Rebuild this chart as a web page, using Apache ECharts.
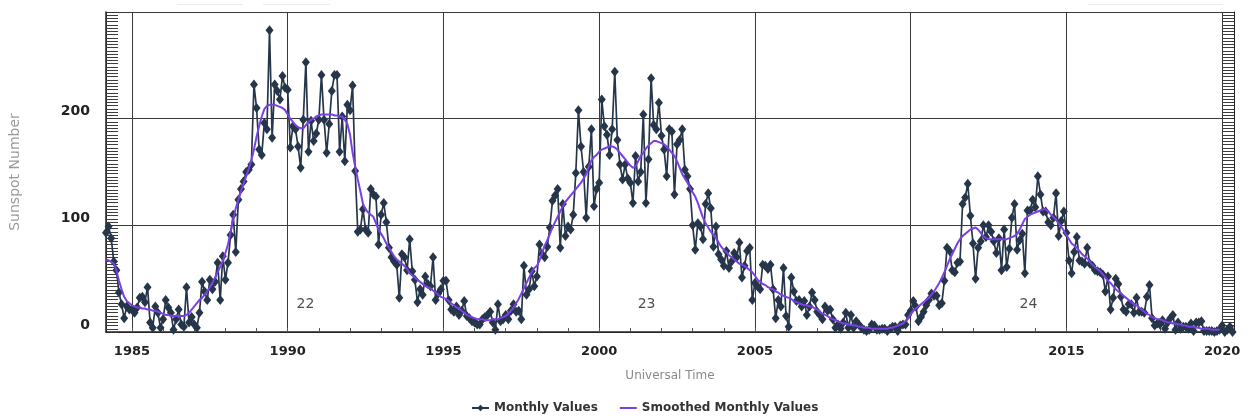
<!DOCTYPE html>
<html>
<head>
<meta charset="utf-8">
<script src="https://cdn.jsdelivr.net/npm/echarts@6/dist/echarts.min.js"></script>
<style>
  html, body { margin: 0; padding: 0; background: #fff; }
  #chart { width: 1249px; height: 417px; }
</style>
</head>
<body>
<div id="chart"></div>
<script>
// First plotted month: March 1984
const startYear = 1984;
const startMonth = 3;

// Monthly mean sunspot numbers, one value per month from Mar 1984
const monthlyValues = [
  /*1984*/ 93, 99, 88, 66, 58, 37, 26, 13, 24, 21,
  /*1985*/ 21, 18, 23, 32, 33, 28, 42, 9, 4, 24, 18, 4,
  /*1986*/ 12, 30, 23, 18, 2, 12, 21, 7, 5, 42, 9, 14,
  /*1987*/ 7, 4, 18, 47, 38, 30, 49, 40, 47, 65, 30, 71,
  /*1988*/ 49, 65, 91, 110, 75, 124, 134, 141, 150, 152, 157, 232,
  /*1989*/ 210, 171, 166, 196, 190, 283, 182, 232, 226, 218, 240, 229,
  /*1990*/ 227, 173, 193, 190, 174, 154, 199, 253, 169, 198, 179, 186,
  /*1991*/ 199, 241, 199, 168, 195, 226, 241, 241, 169, 202, 160, 213,
  /*1992*/ 208, 231, 151, 94, 96, 115, 96, 93, 134, 129, 127, 82,
  /*1993*/ 110, 121, 103, 79, 70, 66, 63, 32, 73, 70, 58, 87,
  /*1994*/ 57, 49, 28, 40, 35, 52, 45, 43, 70, 30, 36, 40,
  /*1995*/ 48, 48, 30, 21, 19, 24, 16, 20, 29, 15, 13, 10,
  /*1996*/ 9, 7, 7, 12, 14, 16, 19, 9, 2, 26, 10, 12,
  /*1997*/ 16, 12, 20, 26, 19, 20, 12, 62, 35, 40, 57, 43,
  /*1998*/ 52, 82, 73, 70, 80, 98, 123, 128, 134, 79, 120, 90,
  /*1999*/ 99, 96, 110, 149, 208, 174, 150, 107, 155, 190, 118, 134,
  /*2000*/ 140, 218, 193, 185, 166, 190, 244, 180, 157, 143, 157, 144,
  /*2001*/ 140, 121, 165, 141, 150, 204, 121, 162, 238, 194, 190, 215,
  /*2002*/ 184, 171, 146, 190, 188, 129, 176, 180, 190, 152, 146, 134,
  /*2003*/ 100, 77, 102, 99, 87, 120, 130, 116, 80, 99, 73, 68,
  /*2004*/ 62, 76, 60, 66, 74, 70, 84, 51, 62, 76, 79, 30,
  /*2005*/ 46, 43, 40, 63, 62, 59, 63, 40, 13, 30, 24, 60,
  /*2006*/ 15, 5, 51, 38, 29, 30, 24, 29, 16, 24, 37, 30,
  /*2007*/ 19, 16, 12, 24, 20, 21, 12, 4, 7, 3, 9, 18,
  /*2008*/ 4, 16, 4, 10, 7, 4, 2, 1, 2, 7, 6, 2,
  /*2009*/ 2, 3, 3, 1, 3, 5, 5, 1, 6, 7, 7, 16,
  /*2010*/ 20, 29, 24, 10, 14, 19, 25, 30, 36, 34, 34, 25,
  /*2011*/ 27, 48, 79, 76, 58, 56, 65, 66, 120, 126, 139, 109,
  /*2012*/ 83, 50, 79, 85, 100, 89, 100, 94, 85, 74, 88, 58,
  /*2013*/ 96, 61, 78, 107, 120, 77, 86, 92, 55, 114, 114, 124,
  /*2014*/ 117, 146, 129, 113, 113, 103, 100, 107, 130, 90, 104, 113,
  /*2015*/ 93, 67, 55, 75, 89, 67, 66, 64, 79, 64, 62, 58,
  /*2016*/ 57, 56, 54, 38, 52, 21, 32, 50, 45, 33, 21, 19,
  /*2017*/ 26, 26, 18, 32, 19, 19, 18, 33, 44, 13, 6, 8,
  /*2018*/ 7, 11, 3, 9, 13, 16, 2, 9, 3, 5, 5, 3,
  /*2019*/ 8, 1, 9, 9, 10, 1, 1, 1, 1, 0, 1, 2,
  /*2020*/ 6, 0, 2, 5, 0
];

// 13-month smoothed sunspot numbers, one value per month from Mar 1984
const smoothedValues = [
  /*1984*/ 68, 67, 66, 64, 58, 48, 40, 33, 29, 27,
  /*1985*/ 25, 24, 23, 23, 22, 22, 21, 21, 20, 20, 19, 18,
  /*1986*/ 17, 16, 16, 15, 15, 15, 15, 15, 15, 16, 18, 21,
  /*1987*/ 24, 27, 30, 32, 35, 38, 42, 46, 51, 56, 61, 66,
  /*1988*/ 74, 82, 94, 106, 116, 124, 132, 139, 146, 153, 161, 171,
  /*1989*/ 183, 193, 202, 209, 212, 213, 213, 213, 212, 211, 210, 208,
  /*1990*/ 204, 200, 197, 194, 192, 191, 191, 194, 197, 199, 200, 202,
  /*1991*/ 203, 204, 204, 204, 204, 204, 203, 203, 202, 202, 199, 195,
  /*1992*/ 185, 168, 155, 143, 132, 120, 115, 112, 110, 108, 102, 96,
  /*1993*/ 92, 88, 83, 79, 75, 71, 68, 66, 64, 62, 59, 55,
  /*1994*/ 53, 51, 49, 47, 45, 43, 42, 41, 39, 37, 35, 33,
  /*1995*/ 32, 31, 29, 27, 25, 23, 22, 20, 18, 16, 15, 14,
  /*1996*/ 13, 12, 12, 12, 11, 11, 11, 12, 12, 12, 13, 14,
  /*1997*/ 15, 17, 20, 23, 27, 31, 36, 41, 46, 51, 56, 60,
  /*1998*/ 62, 67, 74, 81, 86, 92, 98, 103, 108, 113, 118, 122,
  /*1999*/ 125, 128, 131, 134, 137, 140, 144, 148, 155, 161, 164, 166,
  /*2000*/ 169, 171, 172, 173, 174, 174, 173, 171, 168, 165, 162, 159,
  /*2001*/ 156, 154, 155, 160, 165, 168, 172, 175, 177, 179, 179, 178,
  /*2002*/ 177, 176, 174, 171, 168, 165, 160, 154, 148, 144, 140, 135,
  /*2003*/ 131, 127, 121, 114, 107, 102, 98, 94, 91, 88, 84, 80,
  /*2004*/ 77, 75, 72, 70, 68, 66, 64, 63, 62, 60, 58, 56,
  /*2005*/ 53, 49, 47, 45, 44, 42, 41, 40, 38, 37, 35, 34,
  /*2006*/ 33, 32, 31, 29, 28, 27, 26, 25, 25, 24, 24, 22,
  /*2007*/ 21, 19, 17, 16, 15, 13, 12, 11, 10, 9, 8, 8,
  /*2008*/ 7, 7, 6, 6, 5, 5, 4, 4, 4, 3, 3, 3,
  /*2009*/ 3, 3, 3, 3, 4, 4, 5, 6, 7, 8, 10, 13,
  /*2010*/ 17, 20, 22, 24, 26, 28, 30, 32, 35, 38, 42, 46,
  /*2011*/ 51, 56, 62, 68, 73, 78, 83, 87, 90, 92, 94, 96,
  /*2012*/ 97, 98, 96, 93, 90, 88, 87, 87, 87, 87, 87, 87,
  /*2013*/ 87, 87, 88, 89, 90, 92, 96, 101, 106, 108, 110, 111,
  /*2014*/ 112, 113, 114, 115, 115, 113, 110, 108, 105, 102, 99, 95,
  /*2015*/ 91, 87, 83, 81, 79, 76, 73, 71, 69, 66, 63, 61,
  /*2016*/ 59, 57, 54, 51, 48, 46, 43, 40, 38, 36, 34, 32,
  /*2017*/ 30, 28, 26, 25, 23, 21, 19, 17, 16, 14, 13, 12,
  /*2018*/ 12, 11, 10, 9, 9, 8, 8, 7, 7, 6, 6, 5,
  /*2019*/ 5, 5, 4, 4, 3, 3, 3, 3, 2, 2, 2, 2
];

// Solar cycle numbers and where they are written
const cycleNames = ['22', '23', '24'];
const cycleYears = [1990.57, 2001.52, 2013.78];
const cycleLevel = 26;

// Axis ranges and tick labels
const xMin = 1984.1667;
const xMax = 2020.38;
const yTicks = [0, 100, 200];
const yearTicks = [];
for (let y = 1985; y <= 2020; y++) yearTicks.push(y);

const seriesMonthly = 'Monthly Values';
const seriesSmoothed = 'Smoothed Monthly Values';

function monthToYear(i) {
  return startYear + (startMonth - 1 + i) / 12;
}

const monthlyData = monthlyValues.map((v, i) => [monthToYear(i), v]);
const smoothedData = smoothedValues.map((v, i) => [monthToYear(i), v]);
const cycleData = cycleNames.map((n, i) => ({ name: n, value: [cycleYears[i], cycleLevel] }));

const FONT = 'DejaVu Sans';
const INK = '#222';
const GRID = '#3a3a3a';
const PURPLE = '#7a3fe6';
const NAVY = '#26364a';
const COMB = { show: true, splitNumber: 33, length: 12, lineStyle: { color: '#3c3c3c', width: 1 } };

const chart = echarts.init(document.getElementById('chart'), null, { renderer: 'canvas' });

chart.setOption({
  animation: false,
  backgroundColor: '#fff',
  textStyle: { fontFamily: FONT },
  grid: { left: 106, right: 15, top: 12, bottom: 85, containLabel: false },
  // faint rules along the very top edge
  graphic: [
    { type: 'rect', shape: { x: 177, y: 4, width: 66, height: 1 }, style: { fill: '#ececec' }, silent: true },
    { type: 'rect', shape: { x: 263, y: 4, width: 67, height: 1 }, style: { fill: '#ececec' }, silent: true },
    { type: 'rect', shape: { x: 1088, y: 4, width: 135, height: 1 }, style: { fill: '#ececec' }, silent: true }
  ],
  legend: {
    data: [
      { name: seriesMonthly },
      { name: seriesSmoothed, icon: 'path://M0,0 L17,0 L17,2 L0,2 Z' }
    ],
    left: 466,
    top: 397,
    itemWidth: 17,
    itemHeight: 8,
    itemGap: 22,
    textStyle: { fontFamily: FONT, fontSize: 12, fontWeight: 'bold', color: '#333' }
  },
  xAxis: [
    {
      type: 'value',
      min: xMin,
      max: xMax,
      splitNumber: 7,
      minInterval: 5,
      maxInterval: 5,
      axisLine: { show: true, lineStyle: { color: INK, width: 1.5 } },
      axisTick: { show: false },
      axisLabel: {
        margin: 13,
        fontFamily: FONT,
        fontSize: 13,
        fontWeight: 'bold',
        color: INK,
        formatter: function (v) {
          const r = Math.round(v);
          return (Math.abs(v - r) < 1e-6 && r % 5 === 0) ? String(r) : '';
        }
      },
      splitLine: { show: true, lineStyle: { color: GRID, width: 1 } },
      name: 'Universal Time',
      nameLocation: 'middle',
      nameGap: 38,
      nameTextStyle: { fontFamily: FONT, fontSize: 12, color: '#8a8a8a' }
    },
    {
      type: 'value',
      min: xMin,
      max: xMax,
      position: 'bottom',
      axisLine: { show: false },
      axisLabel: { show: false },
      splitLine: { show: false },
      axisTick: {
        show: true,
        inside: true,
        length: 4,
        customValues: yearTicks,
        lineStyle: { color: '#555', width: 1 }
      }
    }
  ],
  yAxis: [
    {
      type: 'value',
      min: 0,
      max: 300,
      interval: 100,
      position: 'left',
      axisLine: { show: true, lineStyle: { color: INK, width: 1.5 } },
      axisTick: { show: true, inside: true, length: 12, lineStyle: { color: '#333' } },
      minorTick: COMB,
      axisLabel: {
        margin: 16,
        verticalAlign: 'bottom',
        fontFamily: FONT,
        fontSize: 14,
        fontWeight: 'bold',
        color: INK,
        formatter: function (v) { return yTicks.indexOf(v) >= 0 ? String(v) : ''; }
      },
      splitLine: { show: true, lineStyle: { color: GRID, width: 1 } },
      name: 'Sunspot Number',
      nameLocation: 'middle',
      nameGap: 84,
      nameTextStyle: { fontFamily: FONT, fontSize: 14, color: '#9a9a9a' }
    },
    {
      type: 'value',
      min: 0,
      max: 300,
      interval: 100,
      position: 'right',
      axisLine: { show: true, lineStyle: { color: INK, width: 1 } },
      axisTick: { show: true, inside: true, length: 12, lineStyle: { color: '#333' } },
      minorTick: COMB,
      axisLabel: { show: false },
      splitLine: { show: false }
    }
  ],
  series: [
    {
      name: seriesMonthly,
      type: 'line',
      data: monthlyData,
      symbol: 'diamond',
      symbolSize: [8, 10],
      showSymbol: true,
      lineStyle: { color: NAVY, width: 1.7 },
      itemStyle: { color: NAVY },
      z: 3
    },
    {
      name: seriesSmoothed,
      type: 'line',
      data: smoothedData,
      symbol: 'none',
      lineStyle: { color: PURPLE, width: 2 },
      itemStyle: { color: PURPLE },
      z: 4
    },
    {
      name: 'cycles',
      type: 'scatter',
      data: cycleData,
      symbolSize: 0,
      silent: true,
      label: {
        show: true,
        position: 'inside',
        formatter: '{b}',
        fontFamily: FONT,
        fontSize: 14,
        color: INK
      },
      z: 5
    }
  ]
});
</script>
</body>
</html>
